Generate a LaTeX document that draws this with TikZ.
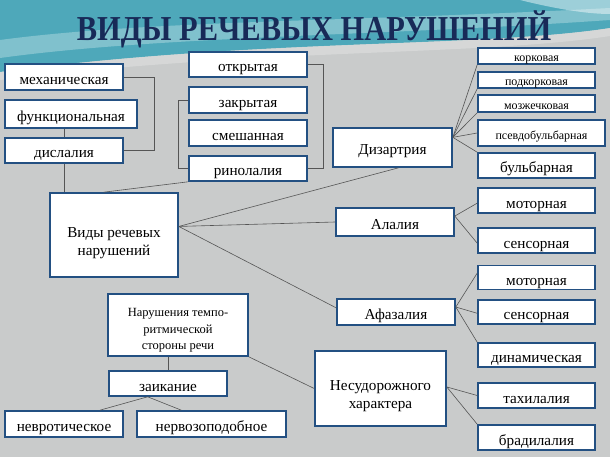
\documentclass[tikz,border=0pt]{standalone}
\usepackage{fontspec}
\setmainfont{Liberation Serif}
\usetikzlibrary{calc}
\definecolor{bggray}{RGB}{201,203,203}
\definecolor{teal1}{RGB}{78,168,186}
\definecolor{teal2}{RGB}{150,205,214}
\definecolor{boxblue}{RGB}{35,80,130}
\definecolor{titleblue}{RGB}{24,42,88}
\definecolor{conncol}{RGB}{85,85,85}
\tikzset{
  box/.style={draw=boxblue, line width=1.6pt, fill=white, inner sep=1pt, text height=15pt, text depth=0pt, font=\fontsize{15.2}{17}\selectfont},
  multibox/.style={draw=boxblue, line width=1.6pt, fill=white, inner sep=1pt, align=center, font=\fontsize{15.2}{18}\selectfont},
  smallbox/.style={box, inner ysep=0pt, text height=12pt, text depth=0pt, font=\fontsize{12}{14}\selectfont},
  conn/.style={draw=conncol, line width=0.6pt},
}
\begin{document}
\begin{tikzpicture}[x=1pt,y=-1pt]
\useasboundingbox (0,0) rectangle (610,457);
% background
\fill[bggray] (0,0) rectangle (610,457);
\fill[teal1] (0,0) -- (610,0) -- (610,28) .. controls (480,48) and (260,38) .. (0,72) -- cycle;
\fill[teal2, opacity=0.7] (0,40) .. controls (150,20) and (350,22) .. (610,8) -- (610,20) .. controls (380,36) and (160,36) .. (0,58) -- cycle;
\fill[white, opacity=0.45] (520,0) .. controls (560,10) and (590,14) .. (610,14) -- (610,0) -- cycle;
\fill[bggray!60!white, opacity=0.6] (0,72) .. controls (260,38) and (480,48) .. (610,28) -- (610,36) .. controls (480,56) and (260,48) .. (0,80) -- cycle;
% title
\node[font=\bfseries\fontsize{35}{40}\selectfont, text=titleblue, xscale=0.87] (title) at (314,29) {ВИДЫ РЕЧЕВЫХ НАРУШЕНИЙ};
% left boxes
\node[box, minimum width=118pt, minimum height=26pt] (mech) at (64,77) {механическая};
\node[box, minimum width=132pt, minimum height=28pt] (func) at (71,114) {функциональная};
\node[box, minimum width=118pt, minimum height=25pt] (disl) at (64,150.5) {дислалия};
\node[box, minimum width=118pt, minimum height=25pt] (otkr) at (248,64.5) {открытая};
\node[box, minimum width=118pt, minimum height=26pt] (zakr) at (248,100) {закрытая};
\node[box, minimum width=118pt, minimum height=26pt] (smesh) at (248,133) {смешанная};
\node[box, minimum width=118pt, minimum height=25pt] (rino) at (248,168.5) {ринолалия};
\node[multibox, minimum width=128pt, minimum height=84pt] (vidy) at (114,235) {\rule{0pt}{26pt}Виды речевых\\нарушений};
\node[multibox, minimum width=140pt, minimum height=62pt, font=\fontsize{12.5}{16.5}\selectfont] (narush) at (178,325) {\rule{0pt}{19pt}Нарушения темпо-\\ритмической\\стороны речи};
\node[box, minimum width=118pt, minimum height=25pt] (zaik) at (168,383.5) {заикание};
\node[box, minimum width=118pt, minimum height=26pt] (nevrot) at (64,424) {невротическое};
\node[box, minimum width=149pt, minimum height=26pt] (nervoz) at (211.5,424) {нервозоподобное};
% middle boxes
\node[box, minimum width=119pt, minimum height=39pt] (dizart) at (392.5,147.5) {Дизартрия};
\node[box, minimum width=118pt, minimum height=28pt] (alal) at (395,222) {Алалия};
\node[box, minimum width=118pt, minimum height=26pt] (afaz) at (396,312) {Афазалия};
\node[multibox, minimum width=131pt, minimum height=75pt] (nesud) at (380.5,388.5) {\rule{0pt}{26pt}Несудорожного\\характера};
% right boxes
\node[smallbox, minimum width=117pt, minimum height=16pt] (kork) at (536.5,56) {корковая};
\node[smallbox, minimum width=117pt, minimum height=16pt] (podk) at (536.5,80) {подкорковая};
\node[smallbox, minimum width=117pt, minimum height=17pt] (mozj) at (536.5,103.5) {мозжечковая};
\node[smallbox, minimum width=127pt, minimum height=26pt, text height=14pt] (psevdo) at (541.5,133) {псевдобульбарная};
\node[box, minimum width=117pt, minimum height=25pt] (bulb) at (536.5,165.5) {бульбарная};
\node[box, minimum width=117pt, minimum height=25pt] (motA) at (536.5,200.5) {моторная};
\node[box, minimum width=117pt, minimum height=25pt] (sensA) at (536.5,240.5) {сенсорная};
\node[box, minimum width=117pt, minimum height=24pt] (motF) at (536.5,277.5) {моторная};
\node[box, minimum width=117pt, minimum height=24pt] (sensF) at (536.5,312) {сенсорная};
\node[box, minimum width=117pt, minimum height=24pt] (dinam) at (536.5,355) {динамическая};
\node[box, minimum width=117pt, minimum height=25pt] (tahi) at (536.5,395.5) {тахилалия};
\node[box, minimum width=117pt, minimum height=25pt] (brad) at (536.5,437.5) {брадилалия};
% connectors
\draw[conn] (mech.east) -- ++(30,0) |- (disl.east);
\draw[conn] (disl.north |- func.south) -- (disl.north);
\draw[conn] (disl.south) -- (disl.south |- vidy.north);
\draw[conn] (zakr.west) -- ++(-10,0) |- (rino.west);
\draw[conn] (otkr.east) -- ++(15,0) |- (rino.east);
\coordinate (vtop) at ($(vidy.north west)!0.42!(vidy.north east)$);
\draw[conn] (rino.south west) -- (vtop);
\coordinate (vo) at ($(vidy.north east)!0.4!(vidy.south east)$);
\draw[conn] (vo) -- ($(dizart.south west)!0.55!(dizart.south east)$);
\draw[conn] (vo) -- (alal.west);
\draw[conn] (vo) -- ($(afaz.north west)!0.35!(afaz.south west)$);
\coordinate (dz) at ($(dizart.north east)!0.25!(dizart.south east)$);
\draw[conn] (dz) -- (kork.south west);
\draw[conn] (dz) -- (podk.south west);
\draw[conn] (dz) -- (mozj.south west);
\draw[conn] (dz) -- (psevdo.west);
\draw[conn] (dz) -- (bulb.north west);
\coordinate (al) at ($(alal.north east)!0.3!(alal.south east)$);
\draw[conn] (al) -- ($(motA.north west)!0.6!(motA.south west)$);
\draw[conn] (al) -- ($(sensA.north west)!0.6!(sensA.south west)$);
\coordinate (af) at ($(afaz.north east)!0.32!(afaz.south east)$);
\draw[conn] (af) -- ($(motF.north west)!0.33!(motF.south west)$);
\draw[conn] (af) -- ($(sensF.north west)!0.55!(sensF.south west)$);
\draw[conn] (af) -- (dinam.north west);
\coordinate (ns) at ($(nesud.north east)!0.48!(nesud.south east)$);
\draw[conn] (ns) -- ($(tahi.north west)!0.5!(tahi.south west)$);
\draw[conn] (ns) -- (brad.north west);
\draw[conn] (narush.south east) -- ($(nesud.north west)!0.5!(nesud.south west)$);
\draw[conn] (narush.south -| zaik.north) -- (zaik.north);
\coordinate (zk) at ($(zaik.south west)!0.33!(zaik.south east)$);
\draw[conn] (zk) -- ($(nevrot.north west)!0.8!(nevrot.north east)$);
\draw[conn] (zk) -- ($(nervoz.north west)!0.3!(nervoz.north east)$);
\end{tikzpicture}
\end{document}
